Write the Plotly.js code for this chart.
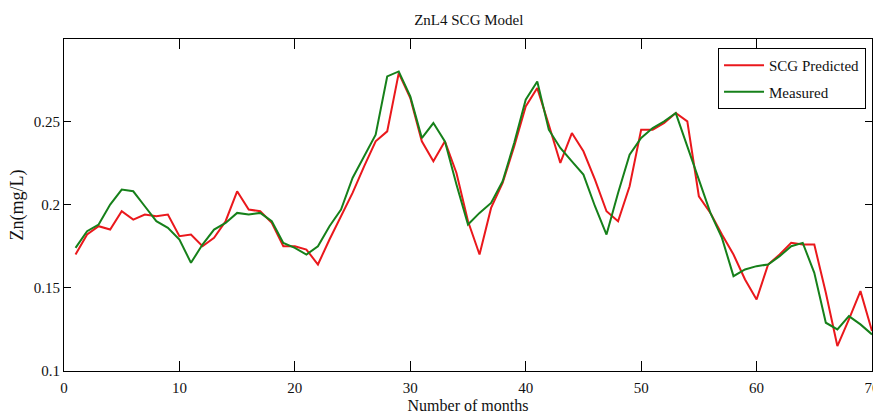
<!DOCTYPE html>
<html>
<head>
<meta charset="utf-8">
<script src="https://cdn.plot.ly/plotly-3.0.1.min.js"></script>
<style>
  html, body { margin: 0; padding: 0; background: #ffffff; }
  #chart { width: 873px; height: 416px; }
</style>
</head>
<body>
<div id="chart"></div>
<script>
// Monthly zinc concentration (mg/L): SCG network prediction vs. measured values
const months = [];
for (let m = 1; m <= 70; m++) months.push(m);

const scgPredicted = [
  0.170, 0.182, 0.187, 0.185, 0.196, 0.191, 0.194, 0.193, 0.194, 0.181,
  0.182, 0.175, 0.180, 0.190, 0.208, 0.197, 0.196, 0.189, 0.175, 0.175,
  0.173, 0.164, 0.179, 0.193, 0.207, 0.223, 0.238, 0.244, 0.279, 0.264,
  0.238, 0.226, 0.238, 0.219, 0.190, 0.170, 0.198, 0.213, 0.235, 0.259,
  0.270, 0.248, 0.225, 0.243, 0.232, 0.215, 0.196, 0.190, 0.211, 0.245,
  0.245, 0.249, 0.255, 0.250, 0.205, 0.195, 0.182, 0.170, 0.155, 0.143,
  0.164, 0.170, 0.177, 0.176, 0.176, 0.147, 0.115, 0.131, 0.148, 0.124
];

const measured = [
  0.174, 0.184, 0.188, 0.200, 0.209, 0.208, 0.199, 0.190, 0.186, 0.179,
  0.165, 0.176, 0.185, 0.189, 0.195, 0.194, 0.195, 0.190, 0.177, 0.174,
  0.170, 0.175, 0.187, 0.197, 0.216, 0.229, 0.242, 0.277, 0.280, 0.265,
  0.240, 0.249, 0.238, 0.212, 0.188, 0.195, 0.201, 0.214, 0.237, 0.263,
  0.274, 0.245, 0.234, 0.226, 0.218, 0.199, 0.182, 0.207, 0.230, 0.240,
  0.246, 0.250, 0.255, 0.235, 0.215, 0.195, 0.180, 0.157, 0.161, 0.163,
  0.164, 0.169, 0.175, 0.177, 0.159, 0.129, 0.125, 0.133, 0.128, 0.122
];

const yTickVals = [0.1, 0.15, 0.2, 0.25];
const yTickText = ['0.1', '0.15', '0.2', '0.25'];
const xTickVals = [0, 10, 20, 30, 40, 50, 60, 70];
const xTickText = ['0', '10', '20', '30', '40', '50', '60', '70'];

const serif = 'Liberation Serif, Times New Roman, serif';

const traces = [
  {
    x: months, y: scgPredicted, name: 'SCG Predicted', type: 'scatter', mode: 'lines',
    line: { color: 'rgb(234,24,28)', width: 2 }, legendgroup: 'a'
  },
  {
    x: months, y: measured, name: 'Measured', type: 'scatter', mode: 'lines',
    line: { color: 'rgb(22,128,26)', width: 2 }, legendgroup: 'b'
  }
];

const axisCommon = {
  showgrid: false, zeroline: false,
  showline: true, linecolor: '#000000', linewidth: 1, mirror: 'ticks',
  ticks: 'inside', tickcolor: '#000000', tickwidth: 1,
  ticklabeloverflow: 'allow',
  tickfont: { family: serif, size: 15, color: '#111111' }
};

const layout = {
  width: 873, height: 416,
  margin: { l: 64, r: 1, t: 39, b: 45 },
  paper_bgcolor: '#ffffff', plot_bgcolor: '#ffffff',
  font: { family: serif, color: '#111111' },
  title: {
    text: 'ZnL4 SCG Model',
    font: { family: serif, size: 15, color: '#111111' },
    x: 0.537, xanchor: 'center', xref: 'container',
    y: 0.953, yanchor: 'middle', yref: 'container'
  },
  xaxis: Object.assign({}, axisCommon, {
    range: [0, 70], tickvals: xTickVals, ticktext: xTickText, ticklen: 10,
    ticklabelstandoff: 3,
    title: { text: 'Number of months', font: { family: serif, size: 16, color: '#111111' }, standoff: 4 }
  }),
  yaxis: Object.assign({}, axisCommon, {
    range: [0.1, 0.2995], tickvals: yTickVals, ticktext: yTickText, ticklen: 7,
    title: { text: 'Zn(mg/L)', font: { family: serif, size: 18, color: '#111111' }, standoff: 5 }
  }),
  showlegend: true,
  legend: {
    x: 0.9926, xanchor: 'right', y: 0.973, yanchor: 'top',
    bgcolor: '#ffffff', bordercolor: '#000000', borderwidth: 1,
    font: { family: serif, size: 15, color: '#111111' },
    itemwidth: 40, traceorder: 'grouped', tracegroupgap: 4
  }
};

Plotly.newPlot('chart', traces, layout, { displayModeBar: false, staticPlot: true });
</script>
</body>
</html>
